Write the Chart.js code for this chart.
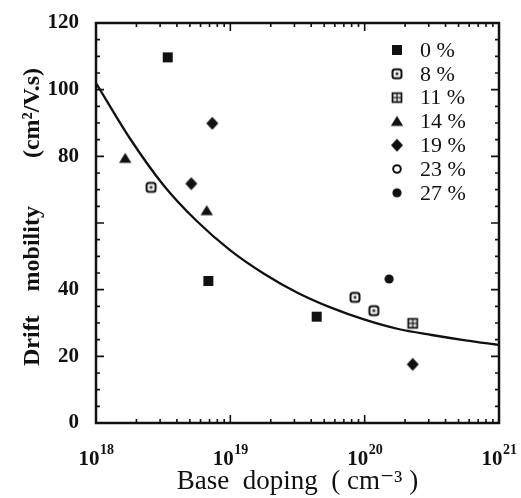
<!DOCTYPE html>
<html><head><meta charset="utf-8">
<script src="https://cdn.jsdelivr.net/npm/chart.js@4/dist/chart.umd.min.js"></script>
<style>html,body{margin:0;padding:0;background:#fff}#wrap{width:521px;height:498px}</style>
</head><body><div id="wrap"><canvas id="c" width="521" height="498"></canvas></div>
<script>
// ---- data ----
const seriesLabels = ['0 %', '8 %', '11 %', '14 %', '19 %', '23 %', '27 %'];
const doping0 = [3.42e18, 6.86e18, 4.39e19];
const mobility0 = [109.7, 42.6, 31.9];
const doping8 = [2.57e18, 8.47e19, 1.17e20];
const mobility8 = [70.7, 37.7, 33.7];
const doping11 = [2.28e20];
const mobility11 = [29.9];
const doping14 = [1.65e18, 6.67e18];
const mobility14 = [79.4, 63.7];
const doping19 = [7.34e18, 5.12e18, 2.28e20];
const mobility19 = [89.9, 71.8, 17.6];
const doping23 = [];
const mobility23 = [];
const doping27 = [1.52e20];
const mobility27 = [43.2];
const fitDoping = [1e18, 1.78e18, 3.16e18, 5.62e18, 1e19, 1.78e19, 3.16e19, 5.62e19, 1e20, 1.78e20, 3.16e20, 5.62e20, 1e21];
const fitMobility = [102, 85.5, 71.5, 60.6, 51.8, 44.8, 39.1, 34.6, 31.0, 28.2, 26.4, 24.8, 23.4];
const xTickValues = [1e18, 1e19, 1e20, 1e21];
const yTickValues = [0, 20, 40, 80, 100, 120];

const FAMILY = '"Liberation Serif", "DejaVu Serif", serif';
const INK = '#111';

function makeMarker(kind) {
  const s = 16, m = s / 2;
  const c = document.createElement('canvas'); c.width = s; c.height = s;
  const g = c.getContext('2d');
  g.fillStyle = INK; g.strokeStyle = INK;
  g.beginPath();
  if (kind === 'square') {
    g.fillRect(m - 5, m - 5, 10, 10);
  } else if (kind === 'squareDot') {
    g.lineWidth = 2;
    g.roundRect(m - 4.5, m - 4.5, 9, 9, 2.5);
    g.fillStyle = '#eee'; g.fill(); g.stroke();
    g.fillStyle = '#333'; g.fillRect(m - 1.3, m - 1.3, 2.6, 2.6);
  } else if (kind === 'squarePlus') {
    g.lineWidth = 1.7;
    g.fillStyle = '#ddd'; g.fillRect(m - 4.5, m - 4.5, 9, 9);
    g.strokeRect(m - 4.5, m - 4.5, 9, 9);
    g.beginPath(); g.lineWidth = 1.1;
    g.moveTo(m, m - 4.5); g.lineTo(m, m + 4.5);
    g.moveTo(m - 4.5, m); g.lineTo(m + 4.5, m); g.stroke();
  } else if (kind === 'triangle') {
    g.moveTo(m - 6.2, m + 4.5); g.lineTo(m + 6.2, m + 4.5); g.lineTo(m, m - 5.5); g.closePath(); g.fill();
  } else if (kind === 'diamond') {
    g.moveTo(m, m - 6.5); g.lineTo(m + 6, m); g.lineTo(m, m + 6.5); g.lineTo(m - 6, m); g.closePath(); g.fill();
  } else if (kind === 'ring') {
    g.lineWidth = 2; g.arc(m, m, 3.8, 0, Math.PI * 2); g.stroke();
  } else if (kind === 'dot') {
    g.arc(m, m, 4.6, 0, Math.PI * 2); g.fill();
  }
  return c;
}

const markerKinds = ['square', 'squareDot', 'squarePlus', 'triangle', 'diamond', 'ring', 'dot'];
const dopingSets = [doping0, doping8, doping11, doping14, doping19, doping23, doping27];
const mobilitySets = [mobility0, mobility8, mobility11, mobility14, mobility19, mobility23, mobility27];
const markers = markerKinds.map(makeMarker);

const datasets = seriesLabels.map((label, i) => ({
  label,
  data: dopingSets[i].map((x, k) => ({x, y: mobilitySets[i][k]})),
  pointStyle: markers[i],
  pointRadius: 5,
  showLine: false
}));
datasets.push({
  label: 'fit',
  data: fitDoping.map((x, k) => ({x, y: fitMobility[k]})),
  showLine: true,
  pointRadius: 0,
  borderColor: INK,
  borderWidth: 2.3,
  cubicInterpolationMode: 'monotone',
  fill: false
});

const framePlugin = {
  id: 'frame',
  afterDatasetsDraw(chart) {
    const {ctx, chartArea: {left, right, top, bottom}, scales: {x, y}} = chart;
    ctx.save();
    ctx.strokeStyle = INK;
    ctx.lineWidth = 2.5;
    ctx.strokeRect(left, top, right - left, bottom - top);
    ctx.lineWidth = 1.6;
    ctx.beginPath();
    for (let e = 18; e <= 20; e++) {
      for (let m = 1; m <= 9; m++) {
        const v = m * Math.pow(10, e);
        if (v <= 1e18) continue;
        const px = x.getPixelForValue(v);
        const len = m === 1 ? 8 : 4;
        ctx.moveTo(px, bottom); ctx.lineTo(px, bottom - len);
        ctx.moveTo(px, top); ctx.lineTo(px, top + len);
      }
    }
    for (let v = 5; v < 120; v += 5) {
      const py = y.getPixelForValue(v);
      const len = v % 20 === 0 ? 8 : 4;
      ctx.moveTo(left, py); ctx.lineTo(left + len, py);
      ctx.moveTo(right, py); ctx.lineTo(right - len, py);
    }
    ctx.stroke();

    // decade labels 10^n with a raised exponent
    ctx.fillStyle = INK;
    ctx.textBaseline = 'alphabetic';
    ctx.textAlign = 'left';
    const baseFont = 'bold 21px ' + FAMILY, supFont = 'bold 14px ' + FAMILY;
    xTickValues.forEach(v => {
      const exp = String(Math.round(Math.log10(v)));
      ctx.font = baseFont; const wb = ctx.measureText('10').width;
      ctx.font = supFont; const ws = ctx.measureText(exp).width;
      const px = x.getPixelForValue(v) - (wb + ws) / 2;
      ctx.font = baseFont; ctx.fillText('10', px, bottom + 42);
      ctx.font = supFont; ctx.fillText(exp, px + wb + 0.5, bottom + 31);
    });
    ctx.restore();
  }
};

const legendPlugin = {
  id: 'insideLegend',
  afterDraw(chart) {
    const {ctx, chartArea: {right, top}} = chart;
    ctx.save();
    ctx.fillStyle = INK;
    ctx.font = '22px ' + FAMILY;
    ctx.textBaseline = 'middle';
    ctx.textAlign = 'left';
    seriesLabels.forEach((label, i) => {
      const cy = top + 27 + i * 23.8;
      const img = markers[i];
      ctx.drawImage(img, right - 102 - img.width / 2, cy - img.height / 2);
      ctx.fillText(label, right - 79, cy + 1);
    });
    ctx.restore();
  }
};

new Chart(document.getElementById('c'), {
  type: 'scatter',
  data: {datasets},
  options: {
    responsive: false,
    animation: false,
    layout: {padding: {left: 0, right: 22, top: 23, bottom: 0}},
    plugins: {legend: {display: false}, tooltip: {enabled: false}},
    scales: {
      x: {
        type: 'logarithmic', min: 1e18, max: 1e21, position: 'bottom',
        afterBuildTicks: s => { s.ticks = xTickValues.map(v => ({value: v})); },
        afterFit: s => { s.height = 75; s.paddingLeft = 0; s.paddingRight = 0; },
        grid: {display: false, drawTicks: false},
        border: {display: false},
        ticks: {display: false},
        title: {display: true, text: 'Base  doping  ( cm⁻³ )', font: {family: FAMILY, size: 27}, color: INK, padding: {top: 0, bottom: 0}}
      },
      y: {
        min: 0, max: 120, position: 'left',
        afterBuildTicks: s => { s.ticks = yTickValues.map(v => ({value: v})); },
        afterFit: s => { s.width = 96; s.paddingTop = 0; s.paddingBottom = 0; },
        grid: {display: false, drawTicks: false},
        border: {display: false},
        ticks: {font: {family: FAMILY, size: 21, weight: 'bold'}, color: INK, padding: 17},
        title: {display: true, text: '  Drift    mobility        (cm²/V.s)', font: {family: FAMILY, size: 24, weight: 'bold'}, color: INK, padding: {top: 18, bottom: 0}}
      }
    }
  },
  plugins: [framePlugin, legendPlugin]
});
</script>
</body></html>
